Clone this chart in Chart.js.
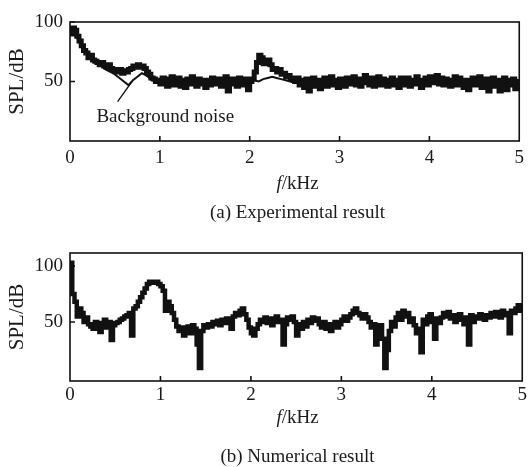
<!DOCTYPE html>
<html lang="en">
<head>
<meta charset="UTF-8">
<title>SPL spectra</title>
<style>
  body { margin: 0; background: #fff; font-family: "Liberation Serif", "Times New Roman", serif; color: #1a1a1a; }
  .wrap { position: relative; width: 530px; height: 467px; }
  canvas { position: absolute; left: 0; }
  .cap { position: absolute; left: 70px; width: 455px; text-align: center; font-size: 19px; line-height: 22px; }
</style>
<script src="https://cdn.jsdelivr.net/npm/chart.js"></script>
</head>
<body>
<div class="wrap">
  <canvas id="chartA" width="530" height="200" style="top:0"></canvas>
  <div class="cap" style="top:172px"><i>f</i>/kHz</div>
  <div class="cap" style="top:201px">(a) Experimental result</div>
  <canvas id="chartB" width="530" height="200" style="top:230px"></canvas>
  <div class="cap" style="top:406px"><i>f</i>/kHz</div>
  <div class="cap" style="top:445px">(b) Numerical result</div>
</div>

<script>
const fineStep = 0.025;
const coarseStep = 0.05;

// (a) experimental SPL, dB, every 0.025 kHz from 0 to 5 kHz
const expA = [
  90,95,93,88,84,80,76,74,70,72,
  68,67,66,64,66,63,62,64,61,60,
  59,58,60,57,59,58,60,61,63,62,
  64,62,63,61,58,56,53,52,50,51,
  48,53,50,46,52,54,47,51,53,46,
  51,45,52,48,54,50,46,52,48,51,
  45,51,47,53,48,51,52,46,50,54,
  42,48,52,50,46,53,50,47,52,43,
  50,52,58,66,72,70,65,67,68,64,
  60,61,58,60,56,57,54,55,52,53,
  50,53,47,51,45,52,42,48,53,46,
  51,44,49,53,46,51,54,47,51,45,
  52,49,46,53,48,51,54,47,52,46,
  50,55,49,47,53,46,51,54,47,52,
  51,46,50,53,47,51,45,53,50,47,
  53,46,51,48,54,50,45,51,53,47,
  54,49,52,55,48,53,47,52,50,46,
  51,54,47,53,50,45,51,43,48,53,
  47,51,54,45,49,52,42,48,53,46,
  51,42,48,53,43,51,47,52,44,50,
  48
];

// (a) background noise SPL, dB, every 0.05 kHz
const bgA = [
  90,92,83,77,72,68,65,63,60,58,
  56,53,50,47,51,54,57,55,52,50,
  51,50,49,51,50,49,50,51,49,50,
  49,50,51,49,50,49,50,51,50,49,
  50,51,50,52,53,54,53,52,51,50,
  49,50,49,50,51,49,50,48,50,49,
  50,49,51,50,48,50,49,51,50,49,
  50,48,50,49,51,50,49,50,48,50,
  51,49,50,48,50,49,51,50,49,50,
  48,50,49,47,50,48,49,50,47,49,
  48
];

// (b) numerical SPL, dB, every 0.025 kHz
const numB = [
  103,75,68,55,62,58,50,54,48,46,
  44,50,47,41,49,52,45,50,34,47,
  49,50,52,53,55,56,58,38,62,64,
  68,72,76,80,84,86,85,86,86,84,
  82,78,60,68,64,58,52,46,42,45,
  38,44,46,40,47,44,30,9,42,47,
  45,48,46,50,48,51,47,52,49,53,
  50,44,55,58,56,60,62,57,52,45,
  40,38,44,48,52,50,54,49,53,47,
  51,55,50,52,30,48,54,52,55,50,
  38,48,44,50,46,52,49,54,51,53,
  48,45,50,44,48,42,47,50,45,48,
  52,55,51,54,57,60,62,58,56,53,
  57,54,50,45,48,30,40,47,35,9,
  25,42,50,46,54,58,52,60,55,58,
  50,53,47,40,44,23,52,48,55,57,
  50,35,53,49,54,58,55,59,53,56,
  50,55,57,52,48,54,30,56,50,55,
  53,57,55,52,56,54,58,55,59,57,
  54,60,58,56,40,60,58,62,65,60,
  58
];

const xTicks = [0, 1, 2, 3, 4, 5];
const yTicks = [50, 100];

function toPoints(values, step) {
  return values.map((v, i) => ({ x: +(i * step).toFixed(3), y: v }));
}

const ink = '#111';
const textInk = '#1a1a1a';
const serif = '"Liberation Serif", "Times New Roman", serif';
const font19 = { family: serif, size: 19 };

// box round the plot area plus short inward tick marks
const framePlugin = {
  id: 'frame',
  afterDatasetsDraw(chart) {
    const { ctx, chartArea: a, scales } = chart;
    ctx.save();
    ctx.strokeStyle = ink;
    ctx.lineWidth = 1.6;
    ctx.strokeRect(a.left, a.top, a.right - a.left, a.bottom - a.top);
    ctx.beginPath();
    xTicks.slice(1, -1).forEach(v => {
      const x = scales.x.getPixelForValue(v);
      ctx.moveTo(x, a.bottom);
      ctx.lineTo(x, a.bottom - 5);
    });
    yTicks.forEach(v => {
      const y = scales.y.getPixelForValue(v);
      ctx.moveTo(a.left, y);
      ctx.lineTo(a.left + 5, y);
    });
    ctx.stroke();
    ctx.restore();
  }
};

// text label with a leader line, placed in data units
const notePlugin = {
  id: 'note',
  afterDatasetsDraw(chart, args, opts) {
    if (!opts.text) return;
    const { ctx, scales } = chart;
    ctx.save();
    ctx.font = '19px ' + serif;
    ctx.fillStyle = textInk;
    ctx.textAlign = 'center';
    ctx.textBaseline = 'middle';
    ctx.fillText(opts.text, scales.x.getPixelForValue(opts.at[0]), scales.y.getPixelForValue(opts.at[1]));
    ctx.strokeStyle = ink;
    ctx.lineWidth = 1.3;
    ctx.beginPath();
    ctx.moveTo(scales.x.getPixelForValue(opts.from[0]), scales.y.getPixelForValue(opts.from[1]));
    ctx.lineTo(scales.x.getPixelForValue(opts.to[0]), scales.y.getPixelForValue(opts.to[1]));
    ctx.stroke();
    ctx.restore();
  }
};

function makeChart(id, datasets, yMin, yMax, padTop, xHeight, xPad, note) {
  return new Chart(document.getElementById(id), {
    type: 'line',
    data: { datasets },
    options: {
      responsive: false,
      animation: false,
      layout: { padding: { top: padTop, right: 5, left: 0, bottom: 0 } },
      plugins: { legend: { display: false }, tooltip: { enabled: false }, note: note || {} },
      elements: { point: { radius: 0 }, line: { tension: 0 } },
      scales: {
        x: {
          type: 'linear', min: 0, max: 5,
          afterBuildTicks: s => { s.ticks = xTicks.map(v => ({ value: v })); },
          afterFit: s => { s.height = xHeight; },
          ticks: { font: font19, color: textInk, padding: xPad, maxRotation: 0, autoSkip: false },
          grid: { display: false, drawTicks: false },
          border: { display: false }
        },
        y: {
          type: 'linear', min: yMin, max: yMax,
          afterBuildTicks: s => { s.ticks = yTicks.map(v => ({ value: v })); },
          afterFit: s => { s.width = 70; },
          ticks: { font: font19, color: textInk, padding: 7 },
          grid: { display: false, drawTicks: false },
          border: { display: false },
          title: { display: true, text: 'SPL/dB', font: { family: serif, size: 21 }, color: textInk, padding: { top: 5, bottom: 0 } }
        }
      }
    },
    plugins: [framePlugin, notePlugin]
  });
}

makeChart('chartA', [
  { data: toPoints(bgA, coarseStep), borderColor: ink, borderWidth: 2, stepped: false },
  { data: toPoints(expA, fineStep), borderColor: ink, borderWidth: 5, stepped: true }
], 0, 100, 22, 59, 6, {
  text: 'Background noise', at: [1.06, 20], from: [0.53, 33], to: [0.69, 50]
});

makeChart('chartB', [
  { data: toPoints(numB, fineStep), borderColor: ink, borderWidth: 4.5, stepped: true }
], -2.7, 111.6, 23, 49, 3);
</script>
</body>
</html>
